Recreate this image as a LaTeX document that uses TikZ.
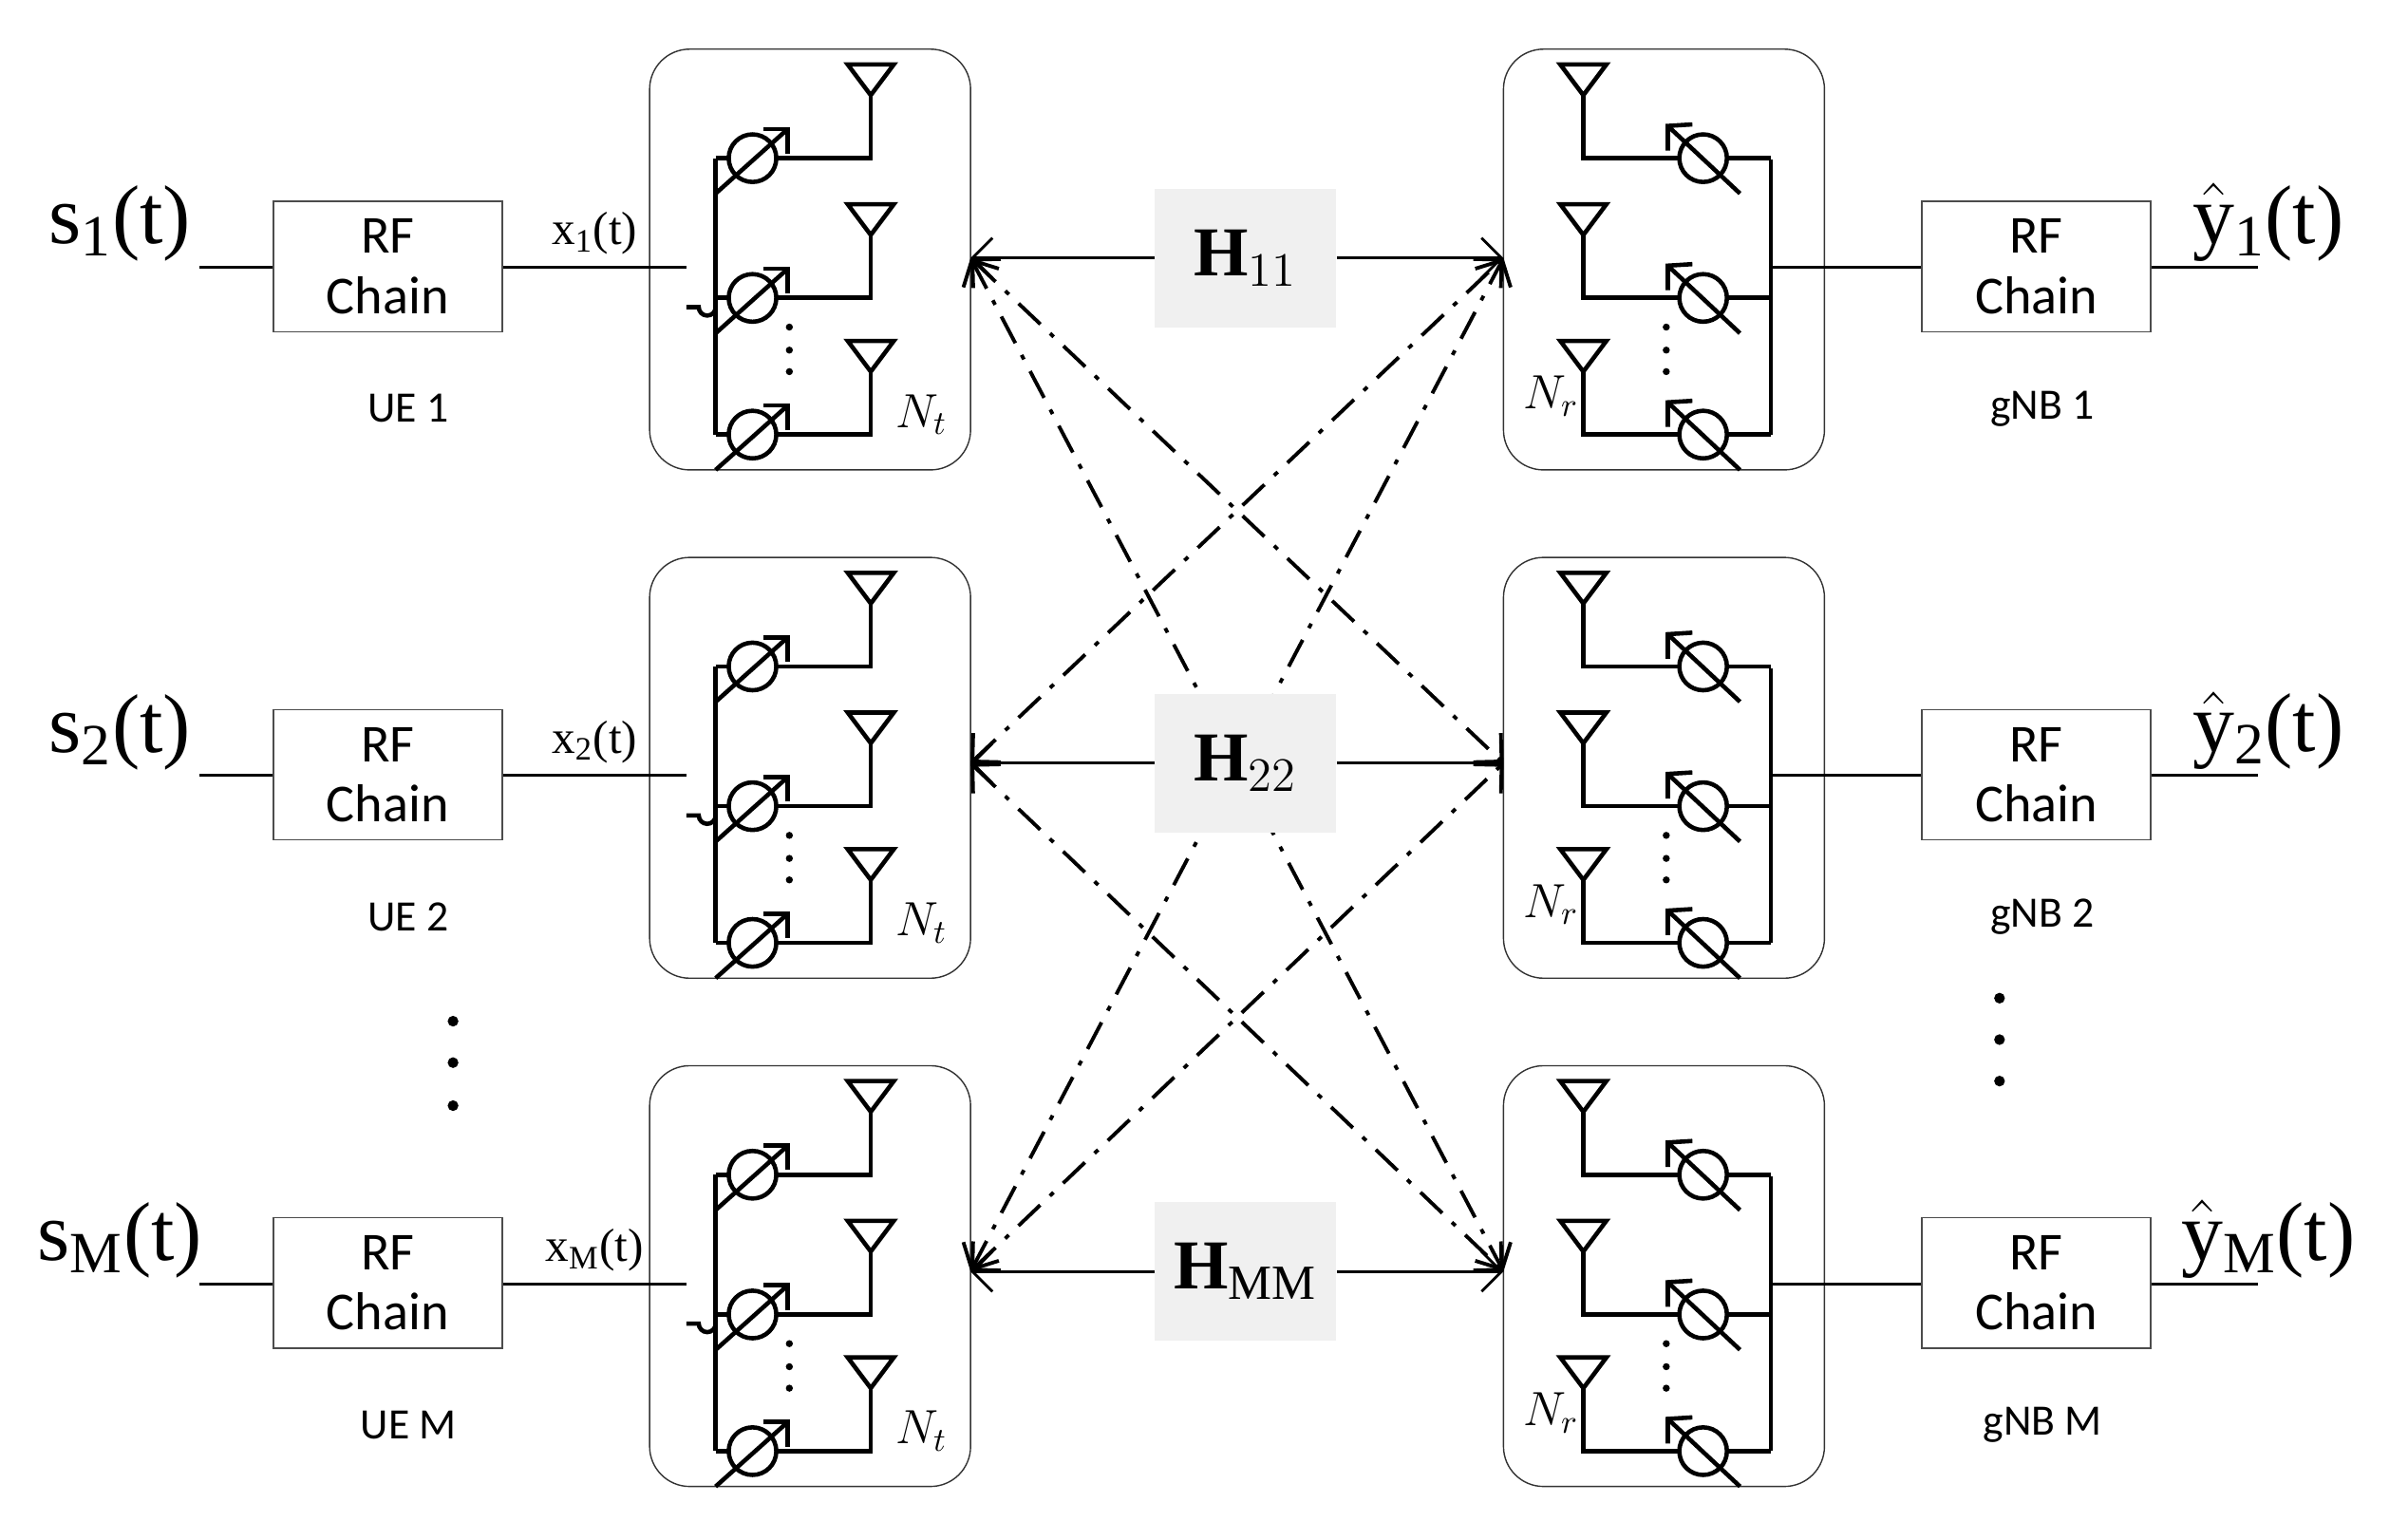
\documentclass[tikz,border=0pt]{standalone}
\usepackage{fontspec}
\usepackage{amsmath}
\setmainfont{Liberation Serif}
\newfontfamily\calib{Carlito}
\usetikzlibrary{arrows.meta}
\tikzset{rfbox/.style={draw=black!70, minimum width=149*0.01617cm, minimum height=85*0.01617cm, align=center, font=\calib\fontsize{16}{18}\selectfont, inner sep=0pt},
  unit/.style={draw=black!80, rounded corners=12pt, minimum width=209*0.01617cm, minimum height=274*0.01617cm, inner sep=0pt},
  hbox/.style={fill=black!6, minimum width=118*0.01617cm, minimum height=90*0.01617cm, font=\fontsize{21}{23}\selectfont},
  wire/.style={line width=1.3pt},
  lbl/.style={font=\calib\fontsize{13}{15}\selectfont},
  cross/.style={line width=1.1pt, dash pattern=on 9pt off 4pt on 1.5pt off 4pt, {Straight Barb[length=6pt]}-{Straight Barb[length=6pt]}}}
\begin{document}
\begin{tikzpicture}[x=0.01617cm, y=-0.01617cm]
\useasboundingbox (0,0) rectangle (1568,990);
\foreach \r/\k/\n in {0/1/1, 331/2/2, 662/M/3}{
  % transmitter side
  \node [rfbox] (rft\n) at (252.5,173.5+\r) {RF\\Chain};
  \node [lbl] (ue\n) at (266,266+\r) {UE \k};
  \node [unit] (tx\n) at (527.5,169+\r) {};
  \node [font=\fontsize{25}{27}\selectfont, anchor=south] (s\n) at (78,178+\r) {s\textsubscript{\k}(t)};
  \coordinate (sin\n) at (130,174+\r);
  \draw [thick] (sin\n) -- (rft\n.west |- sin\n);
  \coordinate (xin\n) at (447,174+\r);
  \draw [thick] (rft\n.east |- xin\n) -- node[above, font=\fontsize{14}{16}\selectfont] {x\textsubscript{\k}(t)} (xin\n);
  \draw [wire] (447,200+\r) -- (455,200+\r) arc (180:0:5.5);
  \draw [wire] (466,103+\r) -- (466,283+\r);
  \foreach \y in {103,194,283}{
    \draw [wire] (466,\y+\r) -- (475,\y+\r);
    \draw [wire] (490,\y+\r) circle (15.5);
    \draw [wire] (505,\y+\r) -- (567,\y+\r) -- (567,\y-41+\r);
    \draw [wire] (552,\y-61+\r) -- (582,\y-61+\r) -- (567,\y-41+\r) -- cycle;
    \draw [wire] (466,\y+23+\r) -- (513,\y-19+\r);
    \draw [wire] (497,\y-19+\r) -- (513,\y-19+\r) -- (513,\y-3+\r);
  }
  \foreach \y in {213,228,242} \fill (514,\y+\r) circle (2.3);
  \node [font=\itshape\fontsize{14}{16}\selectfont] at (600,270+\r) {$N_t$};
  % receiver side
  \node [unit] (rx\n) at (1083.5,169+\r) {};
  \node [rfbox] (rfr\n) at (1326,173.5+\r) {RF\\Chain};
  \node [lbl] (gnb\n) at (1330,266+\r) {gNB \k};
  \coordinate (yout\n) at (1470,174+\r);
  \draw [thick] (rfr\n.east |- yout\n) -- (yout\n);
  \node [font=\fontsize{25}{27}\selectfont, anchor=south] (y\n) at (1477,178+\r) {$\hat{\text{y}}$\textsubscript{\k}(t)};
  \draw [wire] (1153,104+\r) -- (1153,283+\r);
  \draw [thick] (1153,174+\r) -- (rfr\n.west |- 0,174+\r);
  \foreach \y in {103,194,283}{
    \draw [wire] (1153,\y+\r) -- (1124,\y+\r);
    \draw [wire] (1109,\y+\r) circle (15.5);
    \draw [wire] (1094,\y+\r) -- (1031,\y+\r) -- (1031,\y-41+\r);
    \draw [wire] (1016,\y-61+\r) -- (1046,\y-61+\r) -- (1031,\y-41+\r) -- cycle;
    \draw [wire] (1133,\y+23+\r) -- (1086,\y-21+\r);
    \draw [wire] (1086,\y-5+\r) -- (1086,\y-21+\r) -- (1102,\y-22+\r);
  }
  \foreach \y in {213,228,242} \fill (1085,\y+\r) circle (2.3);
  \node [font=\itshape\fontsize{14}{16}\selectfont] at (1010,258+\r) {$N_r$};
}
% channel
\foreach \n/\y in {1/168, 2/497, 3/828}{
  \coordinate (tp\n) at (632,\y);
  \coordinate (rp\n) at (979,\y);
}
\foreach \a/\b in {1/2, 1/3, 2/1, 2/3, 3/1, 3/2}
  \draw [cross] (tp\a) -- (rp\b);
\node [hbox] (h1) at (811,168) {$\mathbf{H}_{11}$};
\node [hbox] (h2) at (811,497) {$\mathbf{H}_{22}$};
\node [hbox] (h3) at (811,828) {$\mathbf{H}_{\mathrm{MM}}$};
\draw [thick, {Straight Barb[length=6pt]}-] (tp1) -- (h1);
\draw [thick, -{Straight Barb[length=6pt]}] (h1) -- (rp1);
\draw [thick, {Straight Barb[length=6pt]}-] (tp2) -- (h2);
\draw [thick, -|] (h2) -- (rp2);
\draw [thick, {Straight Barb[length=6pt]}-] (tp3) -- (h3);
\draw [thick, -{Straight Barb[length=6pt]}] (h3) -- (rp3);
% vertical dots
\foreach \y in {665,692,720} \fill (295,\y) circle (3.5);
\foreach \y in {650,677,704} \fill (1302,\y) circle (3.5);
\end{tikzpicture}
\end{document}
